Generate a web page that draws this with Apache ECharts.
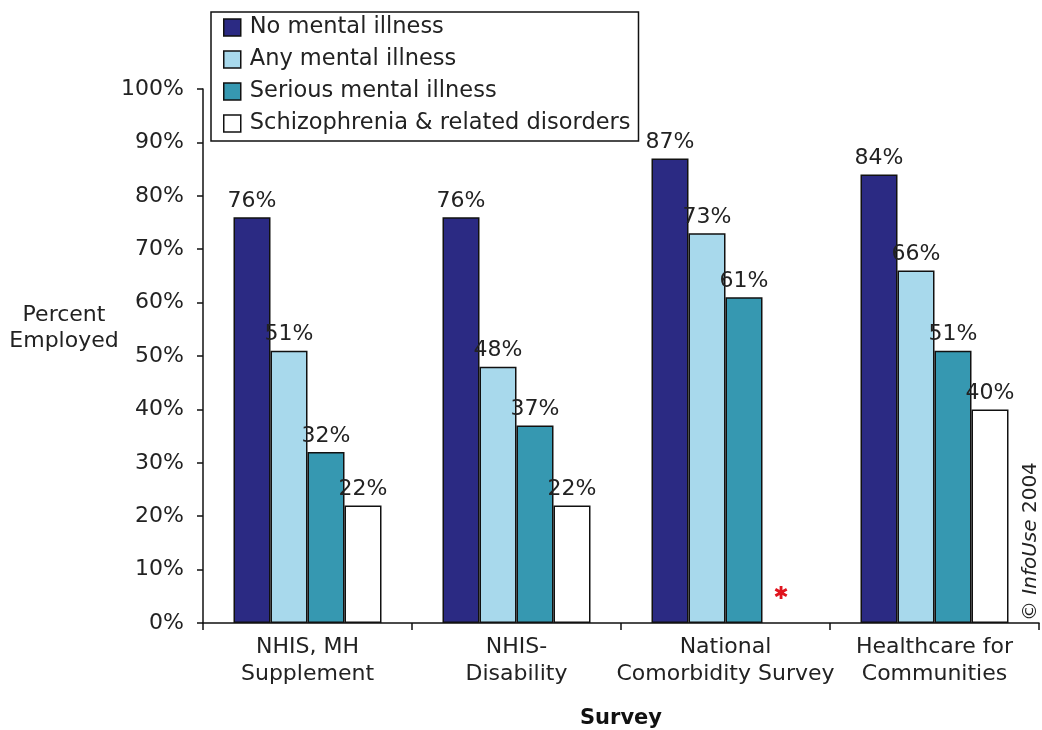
<!DOCTYPE html>
<html><head><meta charset="utf-8">
<script src="https://cdn.jsdelivr.net/npm/echarts@6/dist/echarts.min.js"></script>
<style>html,body{margin:0;padding:0;background:#fff}#c{width:1042px;height:730px}</style>
</head><body><div id="c"></div>
<script>
var categories = ['NHIS, MH\nSupplement', 'NHIS-\nDisability', 'National\nComorbidity Survey', 'Healthcare for\nCommunities'];
var seriesNames = ['No mental illness', 'Any mental illness', 'Serious mental illness', 'Schizophrenia & related disorders'];
var noMental = [76, 76, 87, 84];
var anyMental = [51, 48, 73, 66];
var seriousMental = [32, 37, 61, 51];
var schizophrenia = [22, 22, null, 40];
var yTicks = [0, 10, 20, 30, 40, 50, 60, 70, 80, 90, 100];
var colors = ['#2B2A83', '#A8D9EC', '#3698B1', '#FFFFFF'];
var FONT = 'DejaVu Sans';
var FS = 22;

var chart = echarts.init(document.getElementById('c'));
function mk(i, data) {
  return {
    name: seriesNames[i], type: 'bar', barWidth: 37, barGap: '0%',
    data: data.map(function (v) {
      if (v === null) {
        return { value: 0, itemStyle: { borderWidth: 0 },
          label: { show: true, formatter: '✱', color: '#E0141E', fontSize: 18, distance: 20 } };
      }
      return v;
    }),
    itemStyle: { color: colors[i], borderColor: '#111', borderWidth: 1.5 },
    label: { show: true, position: 'top', distance: 5, formatter: '{c}%', fontFamily: FONT, fontSize: FS, color: '#222' }
  };
}
chart.setOption({
  animation: false,
  textStyle: { fontFamily: FONT },
  grid: { left: 203, right: 3, top: 89, bottom: 107, containLabel: false, outerBoundsMode: 'none' },
  legend: {
    orient: 'vertical', left: 211, top: 12, itemWidth: 17, itemHeight: 17, itemGap: 9,
    icon: 'rect',
    padding: [4, 8, 6, 12], borderColor: '#111', borderWidth: 1.5, backgroundColor: 'transparent',
    textStyle: { fontFamily: FONT, fontSize: 22.5, color: '#222', padding: [0, 0, 0, 4] },
    itemStyle: { borderColor: '#111', borderWidth: 1.5 },
    data: seriesNames
  },
  xAxis: {
    type: 'category', data: categories,
    name: 'Survey', nameLocation: 'middle', nameGap: 85,
    nameTextStyle: { fontFamily: FONT, fontSize: FS - 1, fontWeight: 'bold', color: '#111' },
    axisLine: { lineStyle: { color: '#111', width: 1.5 } },
    axisTick: { show: true, length: 7, lineStyle: { color: '#111', width: 1.5 } },
    axisLabel: { fontFamily: FONT, fontSize: FS, color: '#222', lineHeight: 27, margin: 11, interval: 0 }
  },
  yAxis: {
    type: 'value', min: 0, max: 100, interval: 10,
    axisLine: { show: true, lineStyle: { color: '#111', width: 1.5 } },
    axisTick: { show: true, length: 6, lineStyle: { color: '#111', width: 1.5 } },
    splitLine: { show: false },
    axisLabel: { fontFamily: FONT, fontSize: FS, color: '#222', margin: 19,
      formatter: function (v) { return yTicks.indexOf(v) >= 0 ? v + '%' : ''; } }
  },
  graphic: [
    { type: 'text', x: 64, y: 302,
      style: { text: 'Percent\nEmployed', font: FS + 'px "DejaVu Sans"', fill: '#222', textAlign: 'center', lineHeight: 26 } },
    { type: 'text', x: 1021, y: 621, rotation: Math.PI / 2,
      style: { text: '{a|© }{b|InfoUse}{a| 2004}', fill: '#222',
        rich: { a: { fontFamily: FONT, fontSize: 20, fill: '#222' }, b: { fontFamily: FONT, fontSize: 20, fontStyle: 'italic', fill: '#222' } } } }
  ],
  series: [mk(0, noMental), mk(1, anyMental), mk(2, seriousMental), mk(3, schizophrenia)]
});
</script></body></html>
